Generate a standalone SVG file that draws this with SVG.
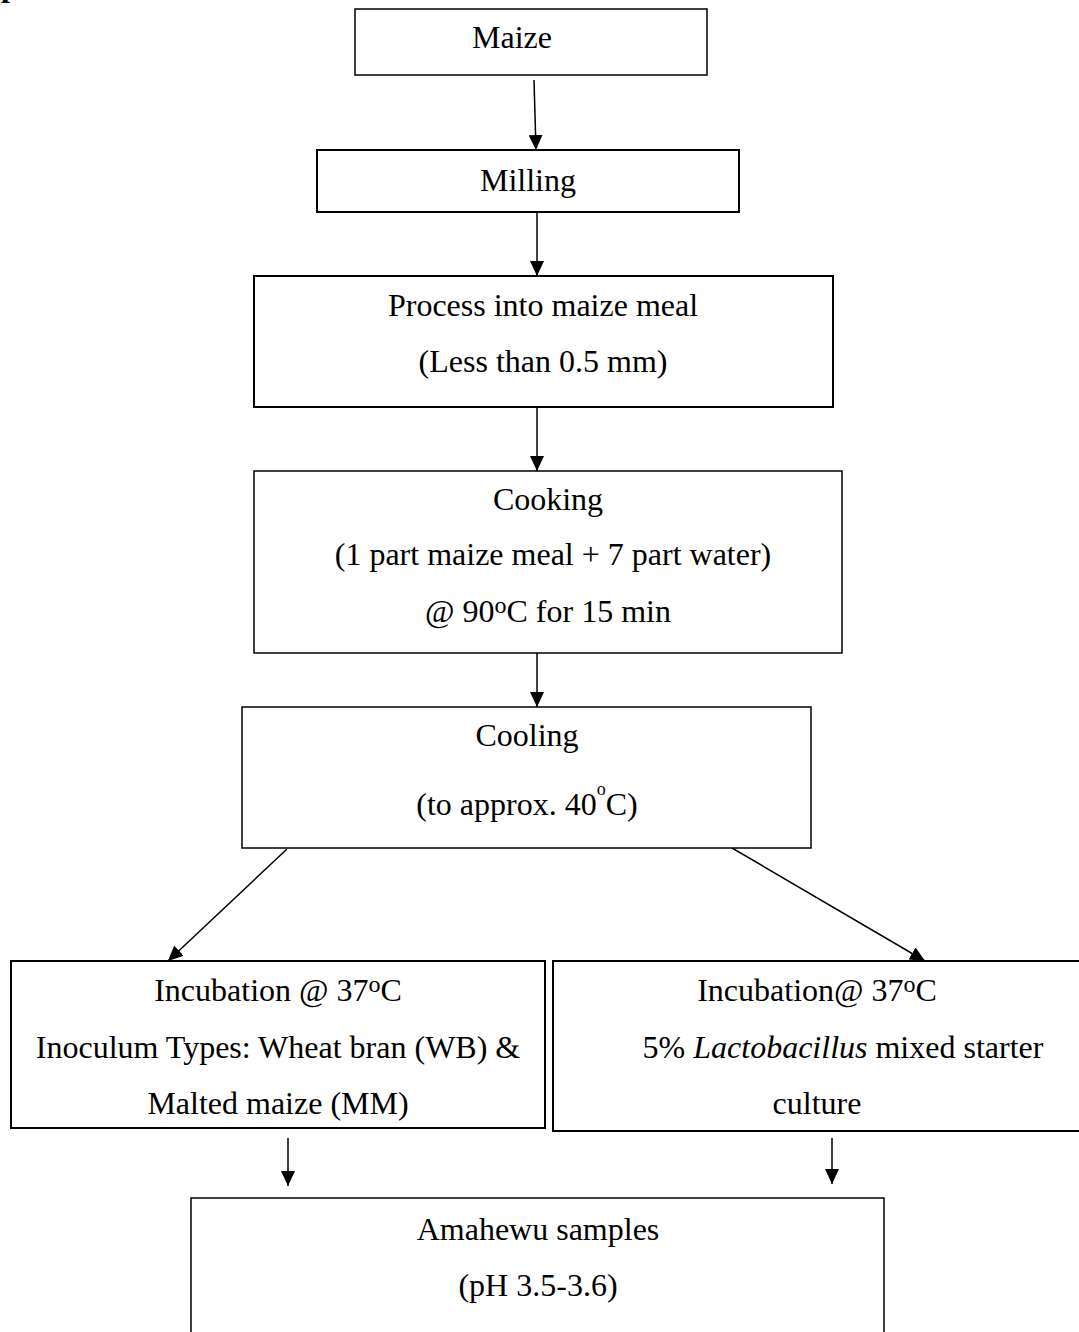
<svg xmlns="http://www.w3.org/2000/svg" width="1079" height="1332" viewBox="0 0 1079 1332">
<style>
.box{fill:#fff;stroke:#000;stroke-width:1.5}
.thick{stroke-width:2}
.t{font-family:"Liberation Serif","Times New Roman",serif;font-size:32px;fill:#000;text-anchor:middle}
.c{stroke:#000;stroke-width:1.5;fill:none;marker-end:url(#ah)}
</style>
<defs>
<marker id="ah" markerUnits="userSpaceOnUse" markerWidth="16" markerHeight="14" refX="15" refY="7" orient="auto" viewBox="0 0 16 14">
<path d="M0,0 L15,7 L0,14 z" fill="#000"/>
</marker>
</defs>
<rect width="1079" height="1332" fill="#fff"/>
<text x="1" y="-4" style="font-family:'Liberation Serif',serif;font-size:32px;font-weight:bold">p</text>
<g id="connectors">
<line class="c" x1="534" y1="80" x2="536" y2="150"/>
<line class="c" x1="537" y1="212" x2="537" y2="276"/>
<line class="c" x1="537" y1="407" x2="537" y2="471"/>
<line class="c" x1="537" y1="653" x2="537" y2="707"/>
<line class="c" x1="287" y1="849" x2="168" y2="961"/>
<line class="c" x1="732" y1="848" x2="925" y2="961"/>
<line class="c" x1="288" y1="1138" x2="288" y2="1186"/>
<line class="c" x1="832" y1="1138" x2="832" y2="1184"/>
</g>
<g id="maize">
<rect class="box" x="355" y="9" width="352" height="66"/>
<text class="t" x="512" y="48">Maize</text>
</g>
<g id="milling">
<rect class="box thick" x="317" y="150" width="422" height="62"/>
<text class="t" x="528" y="191">Milling</text>
</g>
<g id="process">
<rect class="box thick" x="254" y="276" width="579" height="131"/>
<text class="t" x="543" y="316">Process into maize meal</text>
<text class="t" x="543" y="372">(Less than 0.5 mm)</text>
</g>
<g id="cooking">
<rect class="box" x="254" y="471" width="588" height="182"/>
<text class="t" x="548" y="510">Cooking</text>
<text class="t" x="553" y="565">(1 part maize meal + 7 part water)</text>
<text class="t" x="548" y="622">@ 90<tspan font-size="24" dy="-9">o</tspan><tspan dy="9">C for 15 min</tspan></text>
</g>
<g id="cooling">
<rect class="box" x="242" y="707" width="569" height="141"/>
<text class="t" x="527" y="746">Cooling</text>
<text class="t" x="527" y="815">(to approx. 40<tspan font-size="18" dy="-20">o</tspan><tspan dy="20">C)</tspan></text>
</g>
<g id="incubation-left">
<rect class="box thick" x="11" y="961" width="534" height="167"/>
<text class="t" x="278" y="1001">Incubation @ 37<tspan font-size="24" dy="-9">o</tspan><tspan dy="9">C</tspan></text>
<text class="t" x="278" y="1058">Inoculum Types: Wheat bran (WB) &amp;</text>
<text class="t" x="278" y="1114">Malted maize (MM)</text>
</g>
<g id="incubation-right">
<rect class="box thick" x="553" y="961" width="540" height="170"/>
<text class="t" x="817" y="1001">Incubation@ 37<tspan font-size="24" dy="-9">o</tspan><tspan dy="9">C</tspan></text>
<text class="t" x="843" y="1058">5% <tspan font-style="italic">Lactobacillus</tspan> mixed starter</text>
<text class="t" x="817" y="1114">culture</text>
</g>
<g id="amahewu">
<rect class="box" x="191" y="1198" width="693" height="160"/>
<text class="t" x="538" y="1240">Amahewu samples</text>
<text class="t" x="538" y="1296">(pH 3.5-3.6)</text>
</g>
</svg>
